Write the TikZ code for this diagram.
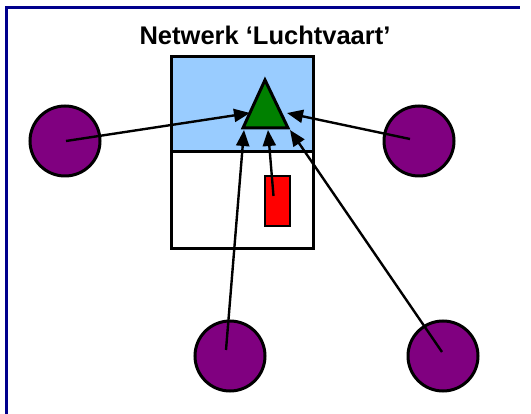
\documentclass[tikz,border=0pt]{standalone}
\usepackage{fontspec}
\setmainfont{Liberation Sans}
\usetikzlibrary{arrows.meta}
\definecolor{frameblue}{RGB}{0,0,140}
\definecolor{skyfill}{RGB}{153,204,255}
\definecolor{hubgreen}{RGB}{0,128,0}
\definecolor{cityviolet}{RGB}{128,0,128}
\begin{document}
\begin{tikzpicture}[x=1pt,y=-1pt,
  city/.style={circle,draw=black,line width=3pt,fill=cityviolet,minimum size=70pt,inner sep=0pt},
  link/.style={line width=2.4pt,-{Triangle[length=16pt,width=13pt]}},
  boxline/.style={draw=black,line width=3pt}]
\useasboundingbox (0,0) rectangle (531,414);
\fill[white] (0,0) rectangle (531,414);
% page frame, only its top and left edges fall inside the picture
\draw[frameblue,line width=3pt,line cap=butt] (6,414) -- (6,8) -- (520,8);
% title
\node[anchor=base,font=\bfseries\fontsize{25.5}{28}\selectfont] (title) at (265,45) {Netwerk ‘Luchtvaart’};
% airport block
\path[boxline,fill=skyfill] (171,57) rectangle (313,152);
\path[boxline,fill=white] (171,152) rectangle (313,249);
\node[draw=black,line width=2.6pt,fill=red,minimum width=25pt,minimum height=50pt,inner sep=0pt] (runway) at (277.5,201) {};
% hub triangle
\draw[line width=3pt,line join=miter,fill=hubgreen] (265,80) -- (288,128) -- (243,128) -- cycle;
\coordinate (inL) at (250,113);
\coordinate (inR) at (287,113);
\coordinate (inBL) at (244,130);
\coordinate (inM) at (268,130);
\coordinate (inBR) at (290,130);
% cities
\node[city] (w) at (65,141) {};
\node[city] (e) at (419,141) {};
\node[city] (sw) at (230,356) {};
\node[city] (se) at (443,356) {};
% connections to the hub
\draw[link] (w.center) ++(1,0) -- (inL);
\draw[link] (e.center) ++(-9,-2) -- (inR);
\draw[link] (sw.center) ++(-4,-6) -- (inBL);
\draw[link] (runway.center) ++(-4,-5) -- (inM);
\draw[link] (se.center) ++(-1,-4) -- (inBR);
\end{tikzpicture}
\end{document}
